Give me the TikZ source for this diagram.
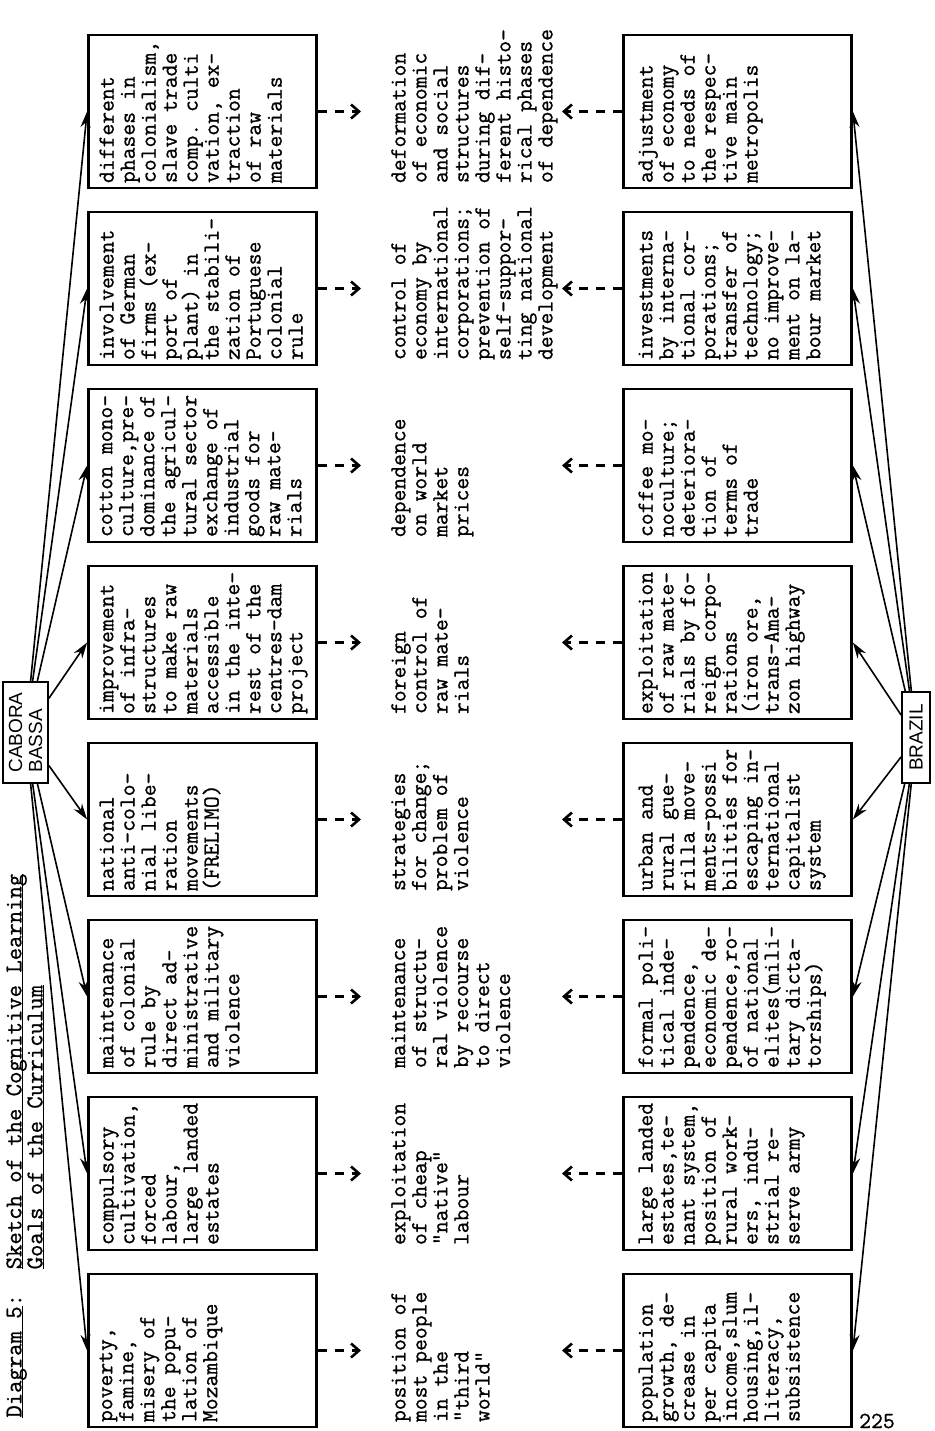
\documentclass[tikz,border=0pt]{standalone}
\usepackage{fontspec}
\newfontfamily\hubfont{Liberation Sans}
\newfontfamily\typewriter[FakeBold = 0.9]{Latin Modern Mono}
\usetikzlibrary{arrows.meta}

\newcommand{\itemfont}{\typewriter\fontsize{11.5}{10.5}\selectfont\frenchspacing\lineskiplimit=-20pt}
\newcommand{\titlefont}{\typewriter\fontsize{12}{10.5}\selectfont\lineskiplimit=-20pt}
\newcommand{\titleline}[1]{\setbox0\hbox{#1}\rlap{\rule[-.9pt]{\wd0}{.6pt}}\box0}

\tikzset{
  itembox/.style = {draw, line width = 1.4pt, minimum width = 114pt,
                    minimum height = 76.5pt, inner sep = 0pt},
  itemtext/.style = {rotate = 90, anchor = north west, align = left,
                     inner sep = 0pt, font = \itemfont},
  hubbox/.style = {draw, rotate = 90, align = left, inner sep = 1pt,
                   line width = .9pt, font = \hubfont\fontsize{9.5}{10}\selectfont},
  hubarrow/.style = {-{Stealth[length = 8pt, width = 5pt]}, line width = .8pt},
  dasharrow/.style = {-{Straight Barb[length = 4pt, width = 7pt]},
                      line width = 1.3pt, dash pattern = on 4.5pt off 4pt}
}

\begin{document}
\begin{tikzpicture}[x = .5pt, y = -.5pt]
  \useasboundingbox (0,0) rectangle (935,1431);

  \node [rotate = 90, anchor = north west, align = left, inner sep = 0pt,
         font = \titlefont] (title) at (6,1418)
    {\titleline{Diagram 5}:\ \ \titleline{Sketch of the Cognitive Learning}\\
     \hphantom{Diagram 5:\ \ }\titleline{Goals of the Curriculum}};
  \node [inner sep = 0pt, font = \itemfont] (page) at (877,1421) {225};

  % the two centres
  \node [hubbox, minimum width = 50.5pt, minimum height = 22.5pt]
    (cabora) at (25.5,732.5) {CABORA\\BASSA};
  \node [hubbox, minimum width = 45.5pt, minimum height = 14pt]
    (brazil) at (916,737.5) {BRAZIL};

  % Cabora Bassa column, from the bottom up
  \node [itembox] (cb1) at (202.5,1350.5) {};
  \node [itembox] (cb2) at (202.5,1173.5) {};
  \node [itembox] (cb3) at (202.5,996.5) {};
  \node [itembox] (cb4) at (202.5,819.5) {};
  \node [itembox] (cb5) at (202.5,642.5) {};
  \node [itembox] (cb6) at (202.5,465.5) {};
  \node [itembox] (cb7) at (202.5,288.5) {};
  \node [itembox] (cb8) at (202.5,111.5) {};

  \node [itemtext] (cbt1) at ([shift = {(6pt,3pt)}]cb1.south west)
    {poverty,\\famine,\\misery of\\the popu-\\lation of\\Mozambique};
  \node [itemtext] (cbt2) at ([shift = {(6pt,3pt)}]cb2.south west)
    {compulsory\\cultivation,\\forced\\labour,\\large landed\\estates};
  \node [itemtext] (cbt3) at ([shift = {(6pt,3pt)}]cb3.south west)
    {maintenance\\of colonial\\rule by\\direct ad-\\ministrative\\and military\\violence};
  \node [itemtext] (cbt4) at ([shift = {(6pt,3pt)}]cb4.south west)
    {national\\anti-colo-\\nial libe-\\ration\\movements\\(FRELIMO)};
  \node [itemtext] (cbt5) at ([shift = {(6pt,3pt)}]cb5.south west)
    {improvement\\of infra-\\structures\\to make raw\\materials\\accessible\\in the inte-\\rest of the\\centres-dam\\project};
  \node [itemtext] (cbt6) at ([shift = {(6pt,3pt)}]cb6.south west)
    {cotton mono-\\culture,pre-\\dominance of\\the agricul-\\tural sector\\exchange of\\industrial\\goods for\\raw mate-\\rials};
  \node [itemtext] (cbt7) at ([shift = {(6pt,3pt)}]cb7.south west)
    {involvement\\of German\\firms (ex-\\port of\\plant) in\\the stabili-\\zation of\\Portuguese\\colonial\\rule};
  \node [itemtext] (cbt8) at ([shift = {(6pt,3pt)}]cb8.south west)
    {different\\phases in\\colonialism,\\slave trade\\comp. culti\\vation, ex-\\traction\\of raw\\materials};

  % what both have in common
  \node [itemtext] (mid1) at ([shift = {(36.5pt,3pt)}]cb1.south east)
    {position of\\most people\\in the\\"third\\world"};
  \node [itemtext] (mid2) at ([shift = {(36.5pt,3pt)}]cb2.south east)
    {exploitation\\of cheap\\"native"\\labour};
  \node [itemtext] (mid3) at ([shift = {(36.5pt,3pt)}]cb3.south east)
    {maintenance\\of structu-\\ral violence\\by recourse\\to direct\\violence};
  \node [itemtext] (mid4) at ([shift = {(36.5pt,3pt)}]cb4.south east)
    {strategies\\for change;\\problem of\\violence};
  \node [itemtext] (mid5) at ([shift = {(36.5pt,3pt)}]cb5.south east)
    {foreign\\control of\\raw mate-\\rials};
  \node [itemtext] (mid6) at ([shift = {(36.5pt,3pt)}]cb6.south east)
    {dependence\\on world\\market\\prices};
  \node [itemtext] (mid7) at ([shift = {(36.5pt,3pt)}]cb7.south east)
    {control of\\economy by\\international\\corporations;\\prevention of\\self-suppor-\\ting national\\development};
  \node [itemtext] (mid8) at ([shift = {(36.5pt,3pt)}]cb8.south east)
    {deformation\\of economic\\and social\\structures\\during dif-\\ferent histo-\\rical phases\\of dependence};

  % Brazil column, from the bottom up
  \node [itembox] (bz1) at (737.5,1350.5) {};
  \node [itembox] (bz2) at (737.5,1173.5) {};
  \node [itembox] (bz3) at (737.5,996.5) {};
  \node [itembox] (bz4) at (737.5,819.5) {};
  \node [itembox] (bz5) at (737.5,642.5) {};
  \node [itembox] (bz6) at (737.5,465.5) {};
  \node [itembox] (bz7) at (737.5,288.5) {};
  \node [itembox] (bz8) at (737.5,111.5) {};

  \node [itemtext] (bzt1) at ([shift = {(8pt,3pt)}]bz1.south west)
    {population\\growth, de-\\crease in\\per capita\\income,slum\\housing,il-\\literacy,\\subsistence};
  \node [itemtext] (bzt2) at ([shift = {(8pt,3pt)}]bz2.south west)
    {large landed\\estates,te-\\nant system,\\position of\\rural work-\\ers, indu-\\strial re-\\serve army};
  \node [itemtext] (bzt3) at ([shift = {(8pt,3pt)}]bz3.south west)
    {formal poli-\\tical inde-\\pendence,\\economic de-\\pendence,ro-\\of national\\elites(mili-\\tary dicta-\\torships)};
  \node [itemtext] (bzt4) at ([shift = {(8pt,3pt)}]bz4.south west)
    {urban and\\rural gue-\\rilla move-\\ments-possi\\bilities for\\escaping in-\\ternational\\capitalist\\system};
  \node [itemtext] (bzt5) at ([shift = {(8pt,3pt)}]bz5.south west)
    {exploitation\\of raw mate-\\rials by fo-\\reign corpo-\\rations\\(iron ore,\\trans-Ama-\\zon highway};
  \node [itemtext] (bzt6) at ([shift = {(8pt,3pt)}]bz6.south west)
    {coffee mo-\\noculture;\\deteriora-\\tion of\\terms of\\trade};
  \node [itemtext] (bzt7) at ([shift = {(8pt,3pt)}]bz7.south west)
    {investments\\by interna-\\tional cor-\\porations;\\transfer of\\technology;\\no improve-\\ment on la-\\bour market};
  \node [itemtext] (bzt8) at ([shift = {(8pt,3pt)}]bz8.south west)
    {adjustment\\of economy\\to needs of\\the respec-\\tive main\\metropolis};

  % fans out of the two centres
  \draw [hubarrow] (cabora) -- (cb1.west);
  \draw [hubarrow] (cabora) -- (cb2.west);
  \draw [hubarrow] (cabora) -- (cb3.west);
  \draw [hubarrow] (cabora) -- (cb4.west);
  \draw [hubarrow] (cabora) -- (cb5.west);
  \draw [hubarrow] (cabora) -- (cb6.west);
  \draw [hubarrow] (cabora) -- (cb7.west);
  \draw [hubarrow] (cabora) -- (cb8.west);
  \draw [hubarrow] (brazil) -- (bz1.east);
  \draw [hubarrow] (brazil) -- (bz2.east);
  \draw [hubarrow] (brazil) -- (bz3.east);
  \draw [hubarrow] (brazil) -- (bz4.east);
  \draw [hubarrow] (brazil) -- (bz5.east);
  \draw [hubarrow] (brazil) -- (bz6.east);
  \draw [hubarrow] (brazil) -- (bz7.east);
  \draw [hubarrow] (brazil) -- (bz8.east);

  % dashed arrows towards the middle
  \coordinate (tipcb) at (361,0);
  \coordinate (tipbz) at (562,0);
  \draw [dasharrow] (cb1.east) -- (cb1.east -| tipcb);
  \draw [dasharrow] (cb2.east) -- (cb2.east -| tipcb);
  \draw [dasharrow] (cb3.east) -- (cb3.east -| tipcb);
  \draw [dasharrow] (cb4.east) -- (cb4.east -| tipcb);
  \draw [dasharrow] (cb5.east) -- (cb5.east -| tipcb);
  \draw [dasharrow] (cb6.east) -- (cb6.east -| tipcb);
  \draw [dasharrow] (cb7.east) -- (cb7.east -| tipcb);
  \draw [dasharrow] (cb8.east) -- (cb8.east -| tipcb);
  \draw [dasharrow] (bz1.west) -- (bz1.west -| tipbz);
  \draw [dasharrow] (bz2.west) -- (bz2.west -| tipbz);
  \draw [dasharrow] (bz3.west) -- (bz3.west -| tipbz);
  \draw [dasharrow] (bz4.west) -- (bz4.west -| tipbz);
  \draw [dasharrow] (bz5.west) -- (bz5.west -| tipbz);
  \draw [dasharrow] (bz6.west) -- (bz6.west -| tipbz);
  \draw [dasharrow] (bz7.west) -- (bz7.west -| tipbz);
  \draw [dasharrow] (bz8.west) -- (bz8.west -| tipbz);
\end{tikzpicture}
\end{document}
